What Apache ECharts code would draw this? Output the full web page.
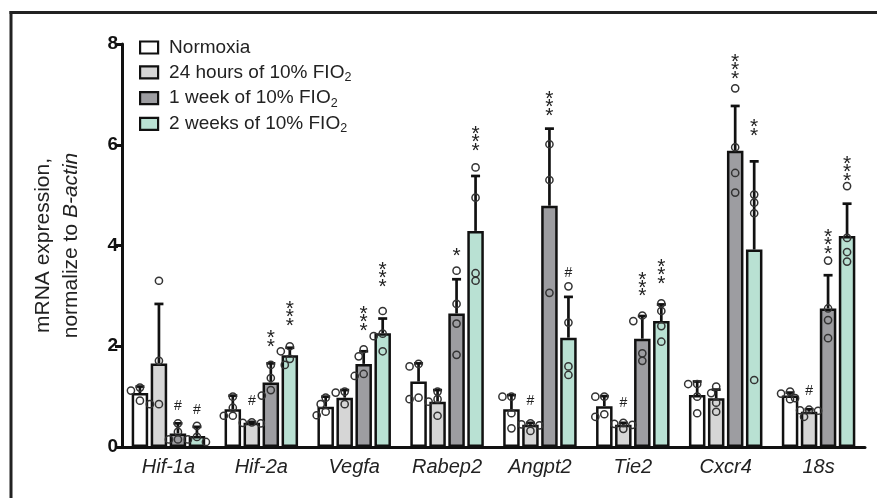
<!DOCTYPE html>
<html><head><meta charset="utf-8">
<script src="https://cdn.jsdelivr.net/npm/echarts@6/dist/echarts.min.js"></script>
<style>html,body{margin:0;padding:0;background:#fff}#c{width:877px;height:498px}</style>
</head><body><div id="c"></div>
<script>
// ---------- data ----------
const genes = ['Hif-1a','Hif-2a','Vegfa','Rabep2','Angpt2','Tie2','Cxcr4','18s'];
const groupNames = ['Normoxia','24 hours of 10% FIO2','1 week of 10% FIO2','2 weeks of 10% FIO2'];
const yTicks = [0,2,4,6,8];

const meanNormoxia = [1.07,0.75,0.80,1.30,0.75,0.81,1.03,1.02];
const sdNormoxia   = [0.13,0.27,0.20,0.36,0.28,0.20,0.27,0.06];
const ptsNormoxia  = [[1.18,1.12,0.92],[1.0,0.78,0.62,0.62],[0.98,0.85,0.70,0.63],[1.65,1.60,0.98,0.95],
                      [1.0,1.0,0.67,0.37],[1.0,1.0,0.65,0.60],[1.25,1.25,1.0,0.67],[1.10,1.06,0.95,0.97]];
const sigNormoxia  = ['','','','','','','',''];
const sigBaseNormoxia = [0,0,0,0,0,0,0,0];

const mean24h = [1.66,0.48,0.98,0.90,0.44,0.44,0.97,0.70];
const sd24h   = [1.18,0.02,0.15,0.23,0.04,0.04,0.17,0.05];
const pts24h  = [[3.30,1.71,0.85,0.85],[0.49,0.48,0.47],[1.10,1.08,0.85],[1.10,0.95,0.90,0.62],
                 [0.47,0.45,0.43,0.32],[0.48,0.46,0.44,0.36],[1.20,1.07,0.88,0.70],[0.74,0.73,0.72,0.60]];
const sig24h  = ['','#','','','#','#','','#'];
const sigBase24h = [0,0.77,0,0,0.77,0.73,0,0.97];

const mean1wk = [0.27,1.28,1.65,2.65,4.79,2.15,5.88,2.75];
const sd1wk   = [0.20,0.38,0.25,0.68,1.53,0.45,0.89,0.66];
const pts1wk  = [[0.47,0.30,0.15,0.15],[1.63,1.37,1.13,1.02],[1.94,1.80,1.45,1.41],[3.50,2.84,2.45,1.83],
                 [6.01,5.30,3.06],[2.61,2.50,1.86,1.71],[7.12,5.95,5.44,5.05],[3.70,2.75,2.52,2.16]];
const sig1wk  = ['#','**','***','*','***','***','***','***'];
const sigBase1wk = [0.67,2.06,2.38,3.87,6.65,3.06,7.38,3.91];

const mean2wk = [0.22,1.82,2.26,4.29,2.17,2.50,3.92,4.19];
const sd2wk   = [0.18,0.15,0.29,1.09,0.81,0.33,1.75,0.64];
const pts2wk  = [[0.42,0.20,0.15,0.10],[2.00,1.90,1.75,1.63],[2.70,2.25,2.20,1.90],[5.55,4.95,3.45,3.30],
                 [3.19,2.47,1.60,1.43],[2.85,2.70,2.40,2.09],[5.01,4.85,4.64,1.33],[5.18,4.15,3.87,3.68]];
const sig2wk  = ['#','***','***','***','#','***','**','***'];
const sigBase2wk = [0.60,2.48,3.25,5.95,3.31,3.31,6.25,5.36];

// ---------- styling ----------
const colors = ['#ffffff','#d6d6d6','#9d9da1','#b9e1d3'];
const FONT = 'Liberation Sans, Arial, sans-serif';
const BAR_W = 16.5, BAR_GAP_PX = 2.5, PITCH = BAR_W + BAR_GAP_PX;

const groups = [
  {mean:meanNormoxia, sd:sdNormoxia, pts:ptsNormoxia, sig:sigNormoxia, base:sigBaseNormoxia},
  {mean:mean24h, sd:sd24h, pts:pts24h, sig:sig24h, base:sigBase24h},
  {mean:mean1wk, sd:sd1wk, pts:pts1wk, sig:sig1wk, base:sigBase1wk},
  {mean:mean2wk, sd:sd2wk, pts:pts2wk, sig:sig2wk, base:sigBase2wk}
];

function spread(ys){
  const order = ys.map((y,j)=>j).sort((a,b)=>ys[a]-ys[b]);
  const offs = new Array(ys.length).fill(0);
  const placed = [];
  const cands = [0,-5,5,-9,9];
  order.forEach(j=>{
    for (const c of cands){
      if (placed.every(p=>Math.hypot(p[0]-c,p[1]-ys[j])>=7.5)){ offs[j]=c; placed.push([c,ys[j]]); return; }
    }
    placed.push([0,ys[j]]);
  });
  return offs;
}

function makeRender(k){
  return function(params, api){
    const i = api.value(0);
    const g = groups[k];
    const cx = api.coord([i,0])[0] + (k-1.5)*PITCH;
    const yMean = api.coord([i,g.mean[i]])[1];
    const yTop = api.coord([i,g.mean[i]+g.sd[i]])[1];
    const ch = [];
    ch.push({type:'line', shape:{x1:cx,y1:yMean,x2:cx,y2:yTop}, style:{stroke:'#111',lineWidth:2.7}});
    ch.push({type:'line', shape:{x1:cx-4.5,y1:yTop,x2:cx+4.5,y2:yTop}, style:{stroke:'#111',lineWidth:2.7}});
    const ys = g.pts[i].map(v=>api.coord([i,v])[1]);
    const offs = spread(ys);
    ys.forEach((y,j)=>{
      ch.push({type:'circle', shape:{cx:cx+offs[j], cy:y, r:3.6}, style:{fill:'none', stroke:'#333', lineWidth:1.5}});
    });
    const s = g.sig[i];
    if (s){
      const yb = api.coord([i,g.base[i]])[1];
      if (s[0]==='#'){
        ch.push({type:'text', x:cx, y:yb, style:{text:'#', fontSize:14, fontFamily:FONT, fill:'#222', align:'center', verticalAlign:'bottom'}});
      } else {
        ch.push({type:'text', x:cx, y:yb+8, style:{text:s.split('').join('\n'), fontSize:21, lineHeight:8.4, fontFamily:FONT, fill:'#222', align:'center', verticalAlign:'bottom'}});
      }
    }
    return {type:'group', children:ch};
  };
}

const series = [];
groups.forEach((g,k)=>{
  series.push({
    name: groupNames[k], type:'bar', data:g.mean, barWidth:BAR_W, barGap:(BAR_GAP_PX/BAR_W*100)+'%',
    itemStyle:{color:colors[k], borderColor:'#111', borderWidth:2.5}, z:2, silent:true
  });
});
groups.forEach((g,k)=>{
  series.push({
    type:'custom', renderItem:makeRender(k), z:3, silent:true,
    data: genes.map((_,i)=>[i, g.mean[i]+g.sd[i]])
  });
});

const chart = echarts.init(document.getElementById('c'), null, {renderer:'canvas'});
chart.setOption({
  animation:false,
  backgroundColor:'#fff',
  grid:{left:122, top:44, width:743, bottom:51, containLabel:false},
  legend:{
    orient:'vertical', left:134, top:32, itemWidth:18, itemHeight:12, itemGap:2.8,
    icon:'rect', data:groupNames, selectedMode:false,
    itemStyle:{borderColor:'#111', borderWidth:2.2},
    textStyle:{fontSize:19, color:'#222', fontFamily:FONT, padding:[0,0,0,6], lineHeight:21,
      rich:{sub:{fontSize:12.5, fontFamily:FONT, color:'#222', padding:[10,0,0,0], lineHeight:21}}},
    formatter: n => n.replace('FIO2','FIO{sub|2}')
  },
  xAxis:{
    type:'category', data:genes,
    axisLine:{lineStyle:{color:'#111', width:3}},
    axisTick:{show:false},
    axisLabel:{fontSize:20, fontStyle:'italic', color:'#222', fontFamily:FONT, margin:10}
  },
  yAxis:{
    type:'value', min:yTicks[0], max:yTicks[yTicks.length-1], interval:yTicks[1]-yTicks[0],
    axisLine:{show:true, lineStyle:{color:'#111', width:3}},
    axisTick:{show:true, length:7, lineStyle:{color:'#111', width:3}},
    axisLabel:{fontSize:19, fontWeight:'bold', color:'#111', fontFamily:FONT, margin:4},
    splitLine:{show:false},
    name:'{a|mRNA expression,}\n{a|normalize to }{b|B-actin}',
    nameLocation:'middle', nameRotate:90, nameGap:37,
    nameTextStyle:{rich:{
      a:{fontSize:21, fontFamily:FONT, color:'#222', lineHeight:28},
      b:{fontSize:21, fontFamily:FONT, color:'#222', fontStyle:'italic', lineHeight:28}
    }}
  },
  graphic:[
    {type:'line', shape:{x1:9.5,y1:12.5,x2:877,y2:12.5}, style:{stroke:'#222', lineWidth:3}},
    {type:'line', shape:{x1:11,y1:11,x2:11,y2:498}, style:{stroke:'#222', lineWidth:3}}
  ],
  series:series
});
</script></body></html>
